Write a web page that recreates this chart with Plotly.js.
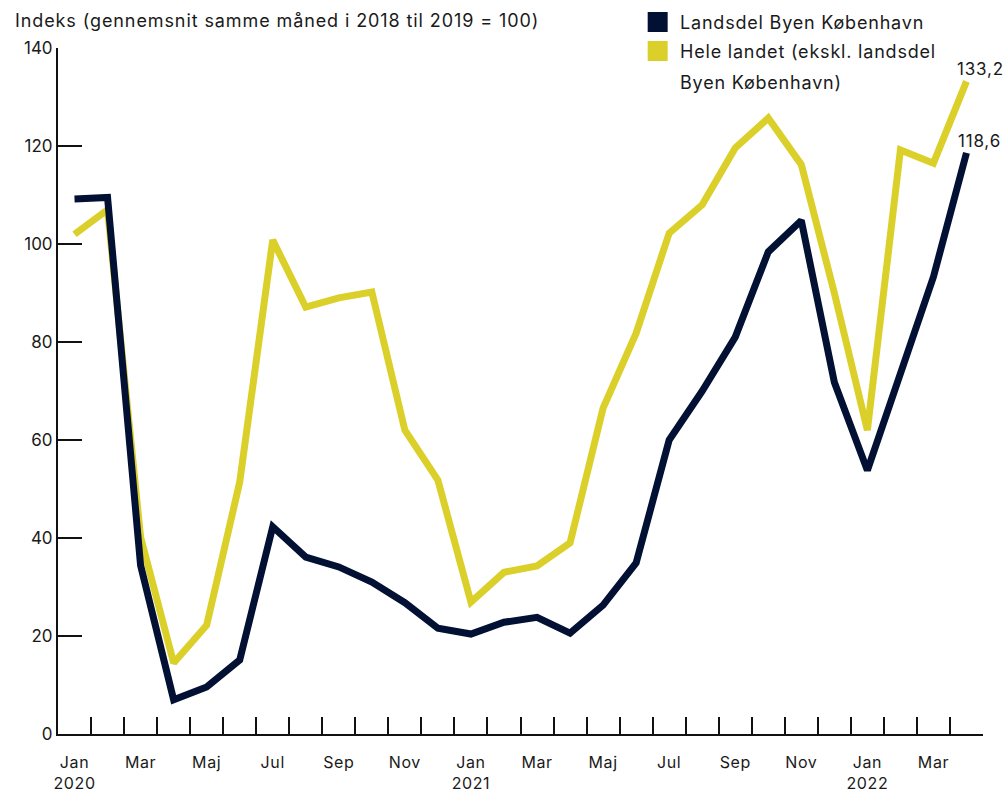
<!DOCTYPE html>
<html>
<head>
<meta charset="utf-8">
<script src="https://cdn.plot.ly/plotly-3.0.1.min.js"></script>
<style>
html,body{margin:0;padding:0;background:#fff;}
#chart{width:1006px;height:792px;}
.gtitle{letter-spacing:0.9px;}
.annotation-text{letter-spacing:0.8px;}
.x2tick text{letter-spacing:0.6px;}
</style>
</head>
<body>
<div id="chart"></div>
<script>
// Months Jan 2020 – Apr 2022
const months = ["Jan 2020","Feb 2020","Mar 2020","Apr 2020","Maj 2020","Jun 2020","Jul 2020","Aug 2020","Sep 2020","Okt 2020","Nov 2020","Dec 2020",
  "Jan 2021","Feb 2021","Mar 2021","Apr 2021","Maj 2021","Jun 2021","Jul 2021","Aug 2021","Sep 2021","Okt 2021","Nov 2021","Dec 2021",
  "Jan 2022","Feb 2022","Mar 2022","Apr 2022"];
const kobenhavn = [109.2,109.5,34.4,7.0,9.6,15.1,42.3,36.1,34.1,31.0,26.8,21.6,
  20.4,22.8,23.8,20.6,26.3,34.9,60.0,70.0,81.0,98.4,104.8,71.8,
  53.8,74.0,93.3,118.6];
const heleLandet = [102.0,107.0,40.2,14.5,22.2,51.4,100.8,87.1,89.0,90.2,62.0,51.8,
  26.9,33.0,34.3,39.0,66.5,81.8,102.2,108.0,119.6,125.7,116.2,90.0,
  62.0,119.2,116.5,133.2];
const tickLabels = ["Jan<br>2020","Mar","Maj","Jul","Sep","Nov","Jan<br>2021","Mar","Maj","Jul","Sep","Nov","Jan<br>2022","Mar"];
const yTicks = [0,20,40,60,80,100,120,140];
const seriesNames = ["Landsdel Byen København","Hele landet (ekskl. landsdel Byen København)"];

const navy = "#021133";
const yellow = "#dbcf2a";
const font = "Inter, 'Open Sans', sans-serif";

const idx = months.map((m,i)=>i);
const labelIdx = tickLabels.map((t,i)=>i*2);
const boundaries = months.map((m,i)=>i+0.5);

const traces = [
  {x: idx, y: heleLandet, type:"scatter", mode:"lines", name: seriesNames[1], text: months,
   line:{color: yellow, width:7, shape:"linear"}, showlegend:false, xaxis:"x", yaxis:"y"},
  {x: idx, y: kobenhavn, type:"scatter", mode:"lines", name: seriesNames[0], text: months,
   line:{color: navy, width:7}, showlegend:false, xaxis:"x", yaxis:"y"},
  {x: [idx[0]], y: [null], type:"scatter", mode:"lines", xaxis:"x2", yaxis:"y", showlegend:false, hoverinfo:"skip"}
];

const L = 58, R = 22.5, T = 48, B = 58;
const pw = 1006 - L - R, ph = 792 - T - B;
const px = v => (v - L) / pw;
const py = v => (792 - B - v) / ph;
const xr = [-0.5, 27.5];

const legendFont = {family: font, size:18, color:"#1a1a1a"};
const layout = {
  width:1006, height:792,
  margin:{l:L, r:R, t:T, b:B, pad:0},
  paper_bgcolor:"#fff", plot_bgcolor:"#fff",
  font:{family: font, size:17, color:"#1a1a1a"},
  title:{text:"Indeks (gennemsnit samme måned i 2018 til 2019 = 100)", xref:"container", yref:"container",
    x: 15/1006, xanchor:"left", y: 1 - 21/792, yanchor:"middle", font:{family: font, size:18, color:"#1a1a1a"}},
  xaxis:{range: xr, tickmode:"array", tickvals: boundaries, ticktext: boundaries.map(()=>""),
    ticks:"inside", ticklen:17, tickwidth:2, tickcolor:"#111", showgrid:false, zeroline:false,
    showline:true, linecolor:"#111", linewidth:2, fixedrange:true},
  xaxis2:{overlaying:"x", anchor:"y", side:"bottom", range: xr, tickmode:"array", tickvals: labelIdx, ticktext: tickLabels,
    ticks:"outside", ticklen:14, tickcolor:"rgba(0,0,0,0)", showgrid:false, zeroline:false, showline:false,
    tickfont:{family: font, size:16, color:"#1a1a1a"}},
  yaxis:{range:[0,140], tickmode:"array", tickvals: yTicks, ticktext: yTicks.map(String),
    ticks:"inside", ticklen:24, tickwidth:2, tickcolor:"#111", showgrid:false, zeroline:false,
    showline:true, linecolor:"#111", linewidth:2, tickfont:{family: font, size:17, color:"#1a1a1a"}},
  showlegend:false,
  shapes:[
    {type:"rect", xref:"paper", yref:"paper", x0:px(648), x1:px(668), y0:py(32), y1:py(12), fillcolor:navy, line:{width:0}},
    {type:"rect", xref:"paper", yref:"paper", x0:px(648), x1:px(668), y0:py(61), y1:py(41), fillcolor:yellow, line:{width:0}}
  ],
  annotations:[
    {xref:"paper", yref:"paper", x:px(678), y:py(22), xanchor:"left", yanchor:"middle", showarrow:false, text:"Landsdel Byen København", font:legendFont},
    {xref:"paper", yref:"paper", x:px(678), y:py(51), xanchor:"left", yanchor:"middle", showarrow:false, text:"Hele landet (ekskl. landsdel", font:legendFont},
    {xref:"paper", yref:"paper", x:px(678), y:py(83), xanchor:"left", yanchor:"middle", showarrow:false, text:"Byen København)", font:legendFont},
    {xref:"x", yref:"y", x: idx[idx.length-1], y: heleLandet[heleLandet.length-1], xanchor:"left", yanchor:"middle", xshift:-11, yshift:12,
     showarrow:false, text: heleLandet[heleLandet.length-1].toFixed(1).replace(".", ","), font:{size:17}},
    {xref:"x", yref:"y", x: idx[idx.length-1], y: kobenhavn[kobenhavn.length-1], xanchor:"left", yanchor:"middle", xshift:-10, yshift:12,
     showarrow:false, text: kobenhavn[kobenhavn.length-1].toFixed(1).replace(".", ","), font:{size:17}}
  ]
};

Plotly.newPlot("chart", traces, layout, {displayModeBar:false, staticPlot:true});
</script>
</body>
</html>
